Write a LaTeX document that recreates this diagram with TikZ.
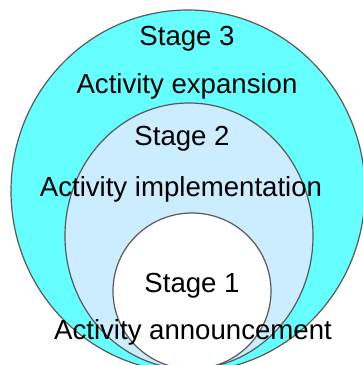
\documentclass[tikz,border=0pt]{standalone}
\usepackage{fontspec}
\setmainfont{Liberation Sans}
\usepackage{tikz}

\definecolor{stagethree}{HTML}{66FFFF}
\definecolor{stagetwo}{HTML}{CCECFF}
\definecolor{ringline}{HTML}{595959}

\begin{document}
\begin{tikzpicture}[x=1pt,y=-1pt,
    ring/.style={draw=ringline,line width=1.2pt},
    label/.style={anchor=base,inner sep=0pt,font=\fontsize{27.6}{33}\selectfont}]
  % frame of the picture
  \useasboundingbox (0,0) rectangle (363,365);
  \clip (0,0) rectangle (363,365);

  % nested stages, all touching at the bottom
  \coordinate (c3) at (188,191);
  \coordinate (c2) at (189,236);
  \coordinate (c1) at (192,291);
  \draw[ring,fill=stagethree] (c3) ellipse [x radius=177pt, y radius=181pt];
  \draw[ring,fill=stagetwo] (c2) ellipse [x radius=124pt, y radius=133pt];
  \draw[ring,fill=white] (c1) ellipse [x radius=79pt, y radius=78pt];

  % stage texts
  \node[label] (s3) at (187,45) {Stage 3};
  \node[label] (a3) at (187,93) {Activity expansion};
  \node[label] (s2) at (182,145) {Stage 2};
  \node[label] (a2) at (181,196) {Activity implementation};
  \node[label] (s1) at (192,292) {Stage 1};
  \node[label] (a1) at (193,339) {Activity announcement};
\end{tikzpicture}
\end{document}
